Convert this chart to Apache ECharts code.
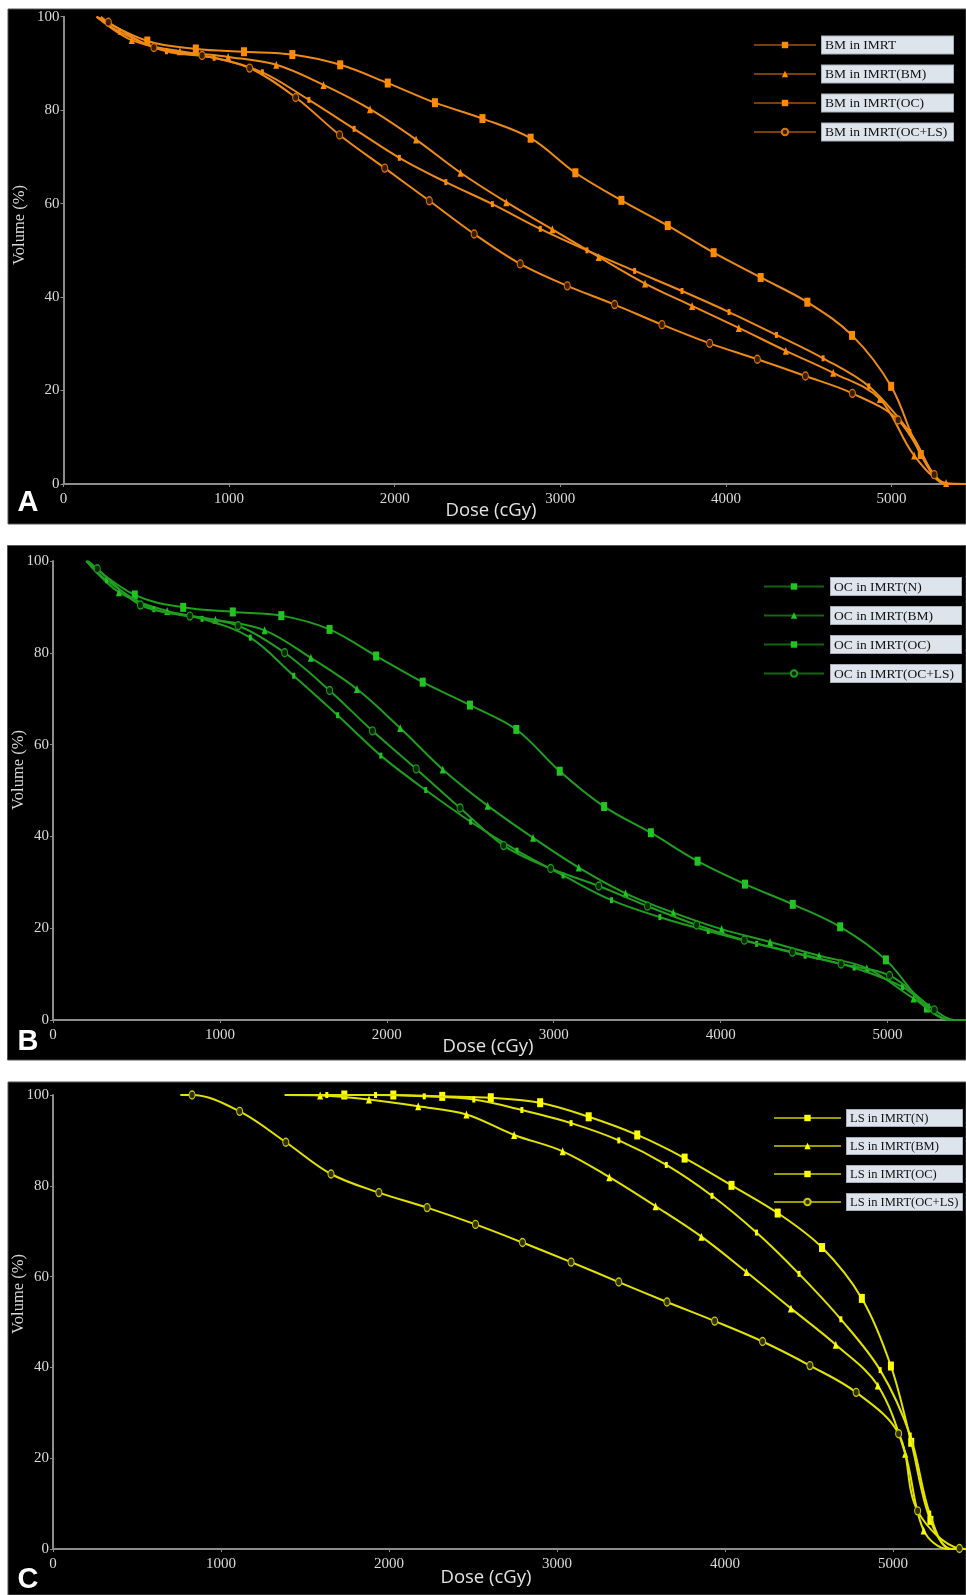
<!DOCTYPE html>
<html><head><meta charset="utf-8">
<script src="https://cdn.jsdelivr.net/npm/echarts@6/dist/echarts.min.js"></script>
<style>html,body{margin:0;padding:0;background:#fff}#c{width:966px;height:1595px}</style>
</head><body><div id="c"></div>
<script>
// ---------- DATA (dose cGy, volume %) ----------
const yTicks = [0, 20, 40, 60, 80, 100];
const xTicks = [0, 1000, 2000, 3000, 4000, 5000];

const namesA = ['BM in IMRT', 'BM in IMRT(BM)', 'BM in IMRT(OC)', 'BM in IMRT(OC+LS)'];
const namesB = ['OC in IMRT(N)', 'OC in IMRT(BM)', 'OC in IMRT(OC)', 'OC in IMRT(OC+LS)'];
const namesC = ['LS in IMRT(N)', 'LS in IMRT(BM)', 'LS in IMRT(OC)', 'LS in IMRT(OC+LS)'];

const bmN = [[200,100],[506,94.8],[799,93.1],[1090,92.5],[1382,91.9],[1671,89.7],[1958,85.8],[2243,81.6],[2530,78.2],[2821,74.0],[3091,66.6],[3369,60.7],[3649,55.3],[3926,49.5],[4210,44.2],[4492,38.9],[4762,31.8],[4998,20.9],[5177,6.3],[5330,0],[5450,0]];
const bmBM = [[200,100],[412,95.0],[703,92.6],[994,91.4],[1285,89.7],[1570,85.4],[1851,80.2],[2129,73.7],[2398,66.6],[2674,60.3],[2952,54.5],[3232,48.6],[3512,42.9],[3796,38.1],[4078,33.4],[4362,28.5],[4648,23.8],[4930,18.2],[5137,6.1],[5330,0.2],[5450,0]];
const bmOC = [[200,100],[337,96.8],[622,92.6],[910,91.2],[1201,88.1],[1482,82.2],[1755,76.0],[2028,69.8],[2309,64.6],[2590,59.9],[2879,54.6],[3161,50.0],[3449,45.6],[3735,41.3],[4019,36.8],[4305,31.9],[4587,26.9],[4863,20.9],[5111,11.1],[5330,0],[5450,0]];
const bmOCLS = [[225,100],[271,98.8],[546,93.4],[837,91.7],[1124,89.0],[1402,82.7],[1667,74.7],[1940,67.6],[2209,60.6],[2480,53.5],[2758,47.1],[3042,42.4],[3328,38.4],[3614,34.1],[3902,30.1],[4190,26.7],[4480,23.1],[4764,19.4],[5040,13.7],[5258,2.0],[5340,0],[5450,0]];

const ocN = [[200,100],[490,92.6],[780,89.9],[1077,88.9],[1368,88.1],[1657,85.1],[1936,79.3],[2215,73.6],[2498,68.6],[2776,63.3],[3036,54.2],[3302,46.5],[3582,40.8],[3862,34.6],[4146,29.6],[4432,25.2],[4716,20.3],[4990,13.1],[5236,2.6],[5390,0],[5470,0]];
const ocBM = [[200,100],[395,93.2],[684,89.1],[973,87.2],[1268,84.9],[1545,78.9],[1821,72.1],[2080,63.6],[2335,54.6],[2604,46.7],[2876,39.7],[3150,33.2],[3430,27.6],[3716,23.4],[4006,19.8],[4296,17.0],[4590,14.0],[4876,11.3],[5156,4.7],[5380,0],[5470,0]];
const ocOC = [[200,100],[321,95.8],[604,89.5],[893,87.4],[1182,83.3],[1442,75.0],[1705,66.4],[1964,57.6],[2233,50.1],[2502,43.2],[2780,36.9],[3056,31.5],[3346,26.1],[3636,22.4],[3926,19.4],[4216,16.6],[4506,14.0],[4800,11.4],[5090,7.2],[5380,0],[5470,0]];
const ocOCLS = [[210,100],[265,98.3],[524,90.4],[820,88.0],[1109,85.9],[1388,80.0],[1657,71.8],[1914,63.0],[2176,54.7],[2439,46.2],[2700,38.0],[2982,33.0],[3270,29.2],[3562,24.8],[3856,20.7],[4142,17.4],[4430,14.8],[4722,12.2],[5012,9.7],[5280,2.2],[5400,0],[5470,0]];

const lsN = [[1380,100],[1734,100],[2026,100],[2317,99.7],[2606,99.4],[2900,98.3],[3189,95.2],[3478,91.2],[3760,86.1],[4039,80.1],[4314,74.0],[4578,66.4],[4815,55.2],[4988,40.3],[5109,23.5],[5223,6.3],[5350,0],[5440,0]];
const lsBM = [[1380,100],[1590,99.9],[1881,99.0],[2174,97.5],[2461,95.7],[2745,91.2],[3034,87.6],[3312,81.9],[3587,75.5],[3860,68.8],[4128,61.0],[4393,53.0],[4660,45.0],[4910,36.0],[5073,21.0],[5183,4.1],[5330,0],[5440,0]];
const lsOC = [[1380,100],[1630,100],[1920,100],[2210,99.7],[2505,99.0],[2791,96.7],[3084,93.8],[3368,90.0],[3651,84.6],[3923,77.8],[4188,69.7],[4441,60.6],[4690,50.6],[4924,39.4],[5103,25.0],[5219,7.8],[5340,0],[5440,0]];
const lsOCLS = [[758,100],[828,100],[1111,96.4],[1386,89.6],[1655,82.6],[1940,78.5],[2227,75.2],[2515,71.5],[2795,67.5],[3084,63.2],[3368,58.8],[3655,54.4],[3939,50.2],[4224,45.7],[4506,40.4],[4781,34.5],[5034,25.4],[5147,8.4],[5396,0.1],[5440,0]];

// ---------- LAYOUT / STYLE ----------
const panels = [
  {letter:'A', names:namesA, sets:[bmN,bmBM,bmOC,bmOCLS], xmax:5450,
   grid:{left:63.5, right:0, top:16.7, height:467.3}, bg:[8,9,958,515],
   line:'#ee8a16', mark:'#ff8c00', ring:'#d87400', dark:'#3a1c00', legLine:'#7a3f05',
   legend:{left:748, top:30.5, itemWidth:62, gap:1, boxW:125, fs:13.5},
   vol:[20,225], dose:[491,511], let:[28,503]},
  {letter:'B', names:namesB, sets:[ocN,ocBM,ocOC,ocOCLS], xmax:5470,
   grid:{left:53, right:0, top:561, height:459}, bg:[7.5,545.5,958.5,514.5],
   line:'#1f9e1f', mark:'#22c422', ring:'#1a9a1a', dark:'#062806', legLine:'#136413',
   legend:{left:758, top:572, itemWidth:60, gap:2, boxW:124, fs:13.5},
   vol:[19,770], dose:[488,1047], let:[28,1042]},
  {letter:'C', names:namesC, sets:[lsN,lsBM,lsOC,lsOCLS], xmax:5435,
   grid:{left:53, right:0, top:1095, height:454}, bg:[8,1082,958,513],
   line:'#e3e300', mark:'#ffff00', ring:'#c8c800', dark:'#303000', legLine:'#9a9a00',
   legend:{left:768, top:1104, itemWidth:67, gap:1, boxW:109, fs:12.5},
   vol:[19,1294], dose:[486,1578], let:[28,1580]}
];
const shapes = [
  {symbol:'rect', size:[6,9]},
  {symbol:'triangle', size:[6,8]},
  {symbol:'rect', size:[3,6]},
  {symbol:'circle', size:[6,8]}
];
const axisGray = '#8c8c8c';
const serif = '"Liberation Serif", "Times New Roman", serif';

const grids = [], xAxes = [], yAxes = [], series = [], legends = [], graphics = [];
panels.forEach((p, gi) => {
  grids.push(Object.assign({containLabel:false}, p.grid));
  xAxes.push({type:'value', gridIndex:gi, min:0, max:p.xmax, interval:1000, position:'bottom',
    axisLine:{show:true, onZero:false, lineStyle:{color:axisGray, width:2}},
    axisTick:{show:true, length:3, lineStyle:{color:axisGray}},
    axisLabel:{color:'#dadada', fontFamily:serif, fontSize:15, margin:8, showMaxLabel:false,
      formatter: v => String(v)},
    splitLine:{show:false}});
  xAxes.push({type:'value', gridIndex:gi, min:0, max:p.xmax, interval:1000, position:'top',
    axisLine:{show:true, lineStyle:{color:axisGray, width:2}},
    axisTick:{show:true, inside:true, length:3, lineStyle:{color:axisGray}},
    axisLabel:{show:false}, splitLine:{show:false}});
  yAxes.push({type:'value', gridIndex:gi, min:0, max:100, interval:20,
    axisLine:{show:true, lineStyle:{color:axisGray, width:2}},
    axisTick:{show:true, length:3, lineStyle:{color:axisGray}},
    axisLabel:{color:'#dadada', fontFamily:serif, fontSize:15, margin:4, formatter: v => String(v)},
    splitLine:{show:false}});
  p.sets.forEach((d, si) => {
    const sh = shapes[si];
    const isCircle = si === 3;
    series.push({
      type:'line', name:p.names[si], xAxisIndex:gi*2, yAxisIndex:gi,
      data:d.map((pt, k) => (k === 0 || pt[1] === 0) ? {value:pt, symbol:'none'} : pt),
      smooth:0.35, showAllSymbol:true,
      symbol:sh.symbol, symbolSize:sh.size,
      lineStyle:{color:p.line, width:2},
      itemStyle: isCircle ? {color:p.dark, borderColor:p.ring, borderWidth:1.2}
                          : {color:p.mark, borderWidth:0},
      emphasis:{disabled:true}, silent:true, z:3+si
    });
  });
  const L = p.legend;
  legends.push({
    orient:'vertical', left:L.left, top:L.top, itemWidth:L.itemWidth, itemHeight:8, itemGap:10,
    data:p.names.map(n => ({name:n, lineStyle:{color:p.legLine, width:2}})),
    selectedMode:false,
    lineStyle:{color:p.legLine, width:2},
    formatter: n => '{g| }{b|' + n + '}',
    textStyle:{rich:{
      g:{width:L.gap, fontSize:10},
      b:{backgroundColor:'#dde4ec', borderColor:'#a7b0ba', borderWidth:1, color:'#111',
         fontFamily:serif, fontSize:L.fs, width:L.boxW, padding:[2,3,1,3], lineHeight:14}
    }}
  });
  graphics.push({type:'rect', z:-100, shape:{x:p.bg[0], y:p.bg[1], width:p.bg[2], height:p.bg[3]},
    style:{fill:'#000', stroke:'#555', lineWidth:1}});
  graphics.push({type:'text', z:100, x:p.vol[0], y:p.vol[1], rotation:Math.PI/2,
    style:{text:'Volume (%)', x:0, y:0, fill:'#dadada', font:'16.5px ' + serif,
      align:'center', verticalAlign:'middle', textAlign:'center', textVerticalAlign:'middle'}});
  graphics.push({type:'text', z:100, x:p.dose[0], y:p.dose[1],
    style:{text:'Dose (cGy)', x:0, y:0, fill:'#e2e2e2', font:'18.5px "Open Sans", sans-serif',
      align:'center', verticalAlign:'middle', textAlign:'center', textVerticalAlign:'middle'}});
  graphics.push({type:'text', z:100, x:p.let[0], y:p.let[1],
    style:{text:p.letter, x:0, y:0, fill:'#ffffff', font:'bold 29px "Liberation Sans", Arial, sans-serif',
      align:'center', verticalAlign:'middle', textAlign:'center', textVerticalAlign:'middle'}});
});

const chart = echarts.init(document.getElementById('c'), null, {renderer:'canvas'});
chart.setOption({
  backgroundColor:'#ffffff',
  animation:false,
  grid:grids, xAxis:xAxes, yAxis:yAxes, series:series, legend:legends,
  graphic:{elements:graphics}
});
</script></body></html>
